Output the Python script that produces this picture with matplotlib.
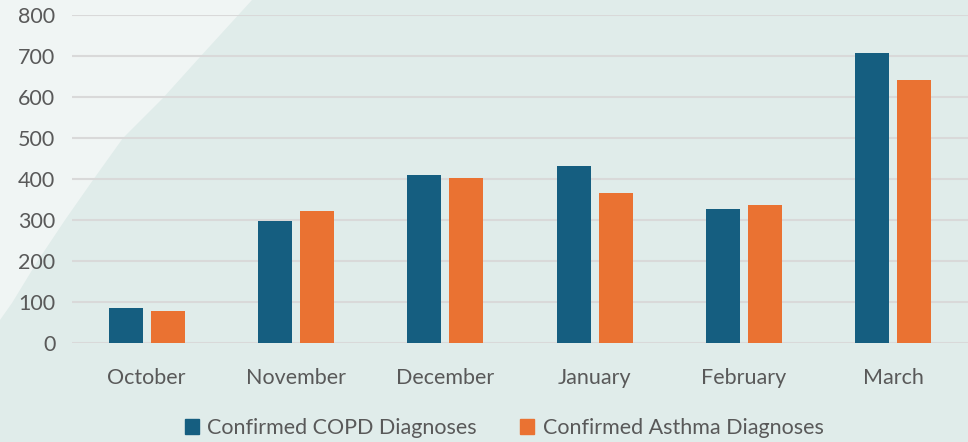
import matplotlib.pyplot as plt
import numpy as np
from matplotlib.patches import Polygon, Rectangle

months = ['October', 'November', 'December', 'January', 'February', 'March']
copd = [85, 298, 410, 432, 327, 707]
asthma = [78, 322, 402, 366, 337, 641]

COPD_COLOR = '#155e80'
ASTHMA_COLOR = '#ea7232'
TEXT_COLOR = '#595959'

plt.rcParams['font.family'] = ['Lato', 'DejaVu Sans']

fig = plt.figure(figsize=(9.68, 4.42), dpi=100)
fig.patch.set_facecolor('#e0ecea')

# lighter wedge in the upper-left corner (figure pixels, y from top)
W, H = 968, 442
edge = [(252, 0), (200, 57), (163, 98), (123, 138), (93, 180),
        (65, 220), (37, 262), (12, 303), (0, 320)]
pts = [(0, 0)] + edge
fig.patches.append(Polygon([(x / W, 1 - y / H) for x, y in pts], closed=True,
                           transform=fig.transFigure, facecolor='#f0f5f4',
                           edgecolor='none', zorder=-5))

ax = fig.add_axes([72 / W, 1 - 343 / H, 1 - 72 / W, (343 - 15) / H])
ax.set_facecolor('none')

x = np.arange(len(months))
w = 0.227
off = 0.14
ax.bar(x - off, copd, w, color=COPD_COLOR, zorder=3)
ax.bar(x + off, asthma, w, color=ASTHMA_COLOR, zorder=3)

ax.set_xlim(-0.5, len(months) - 0.5)
ax.set_ylim(0, 800)
ax.set_yticks(range(0, 801, 100))
ax.yaxis.grid(True, color='#d9d9d9', linewidth=1.5, zorder=0)
ax.set_xticks(x)
ax.set_xticklabels(months)
for s in ax.spines.values():
    s.set_visible(False)
ax.tick_params(length=0, labelsize=15.5, colors=TEXT_COLOR)
ax.tick_params(axis='x', pad=18)
ax.tick_params(axis='y', pad=12)

handles = [Rectangle((0, 0), 1, 1, color=COPD_COLOR),
           Rectangle((0, 0), 1, 1, color=ASTHMA_COLOR)]
leg = fig.legend(handles, ['Confirmed COPD Diagnoses', 'Confirmed Asthma Diagnoses'],
                 loc='center', bbox_to_anchor=(504 / W, 1 - 428 / H), ncol=2,
                 frameon=False, fontsize=15.5, handlelength=0.65, handleheight=0.65,
                 handletextpad=0.4, columnspacing=2.0, labelcolor=TEXT_COLOR)

fig.savefig('out.png', dpi=100, facecolor=fig.get_facecolor())
